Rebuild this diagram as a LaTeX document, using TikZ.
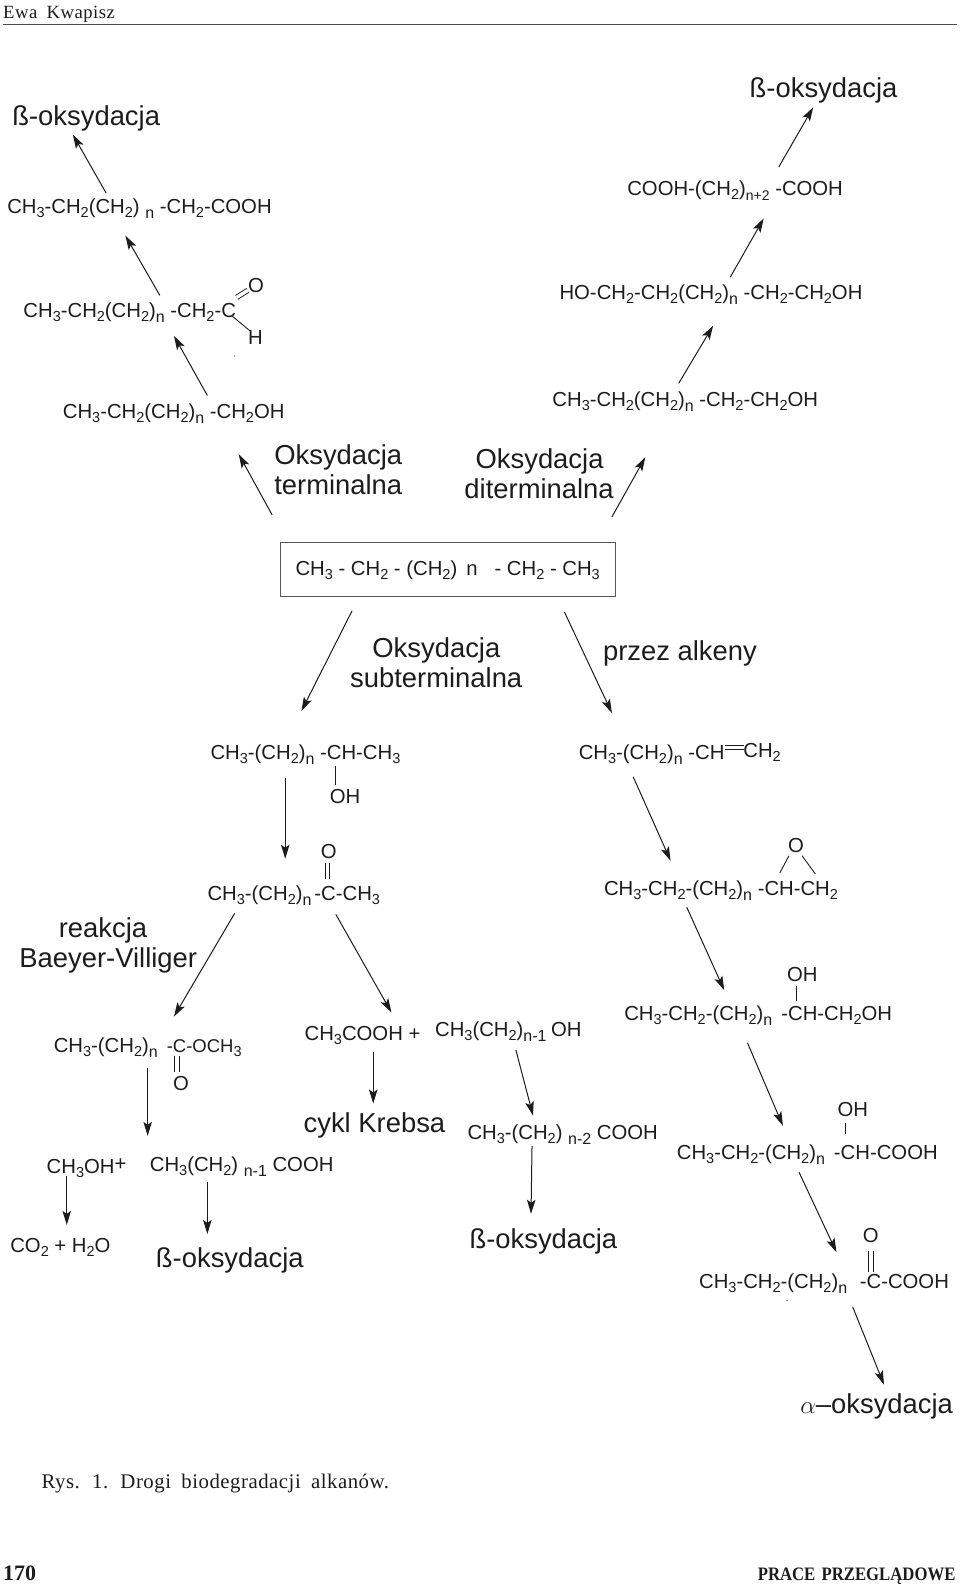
\documentclass[tikz,border=0pt]{standalone}
\usepackage{fontspec}
\setmainfont{Liberation Sans}
\newfontfamily\sklad[LetterSpace=2.5,WordSpace=1.8]{Liberation Serif}
\newfontfamily\skladb[WordSpace=1.5]{Liberation Serif}
\usetikzlibrary{arrows.meta}
\definecolor{tusz}{HTML}{1C1C1C}
\newcommand{\dol}[1]{\raisebox{-4pt}{\fontsize{14.5}{14.5}\selectfont #1}}
\newcommand{\enn}[1]{\raisebox{-5pt}{\fontsize{16}{16}\selectfont #1}}
\begin{document}
\begin{tikzpicture}[x=1.0116pt, y=-1.0116pt, text=tusz]
\tikzset{wzor/.style={anchor=base west, inner sep=0pt, font=\fontsize{20.3}{20.3}\selectfont},
  duzy/.style={anchor=base west, inner sep=0pt, font=\fontsize{27.4}{27.4}\selectfont},
  sklad/.style={anchor=base west, inner sep=0pt, font=\sklad\fontsize{20.8}{20.8}\selectfont},
  strzalka/.style={draw=tusz, line width=1pt, -{Stealth[length=14pt,width=8.5pt,inset=3pt]}},
  wiazanie/.style={draw=tusz, line width=0.9pt},
  podwojne/.style={wiazanie, double, double distance=3.5pt}}
\useasboundingbox (0,0) rectangle (949,1569);

% naglowek i stopka
\node[sklad, font=\sklad\fontsize{18.7}{18.7}\selectfont] (autor) at (3,18) {Ewa Kwapisz};
\draw[draw=black!70, line width=1.4pt] (3,24) coordinate (g1) -- (946,24) coordinate (g2);
\node[sklad] (podpis) at (41,1472) {Rys. 1. Drogi biodegradacji alkanów.};
\node[sklad, font=\skladb\bfseries\fontsize{22}{22}\selectfont] (strona) at (3,1563) {170};
\node[sklad, font=\skladb\bfseries\fontsize{19}{19}\selectfont] (dzial) at (749,1563) {\scalebox{0.88}[1]{PRACE PRZEGLĄDOWE}};

% oksydacja terminalna
\node[duzy] (betaA) at (12,124) {ß-oksydacja};
\node[wzor] (kwasA) at (7,211) {CH\dol{3}-CH\dol{2}(CH\dol{2}) \enn{n} -CH\dol{2}-COOH};
\node[wzor] (aldehyd) at (23,314) {CH\dol{3}-CH\dol{2}(CH\dol{2})\enn{n} -CH\dol{2}-C};
\node[wzor] (aldO) at (245,289) {O};
\node[wzor] (aldH) at (245,341) {H};
\node[wzor] (alkoholA) at (62,414) {CH\dol{3}-CH\dol{2}(CH\dol{2})\enn{n} -CH\dol{2}OH};
\node[duzy] (termA) at (271,459) {Oksydacja};
\node[duzy] (termB) at (271,489) {terminalna};
\coordinate (d1) at (234,294); \coordinate (d2) at (245,287);
\draw[podwojne] (d1) -- (d2);
\coordinate (d3) at (229,312); \coordinate (d4) at (247,327);
\draw[wiazanie] (d3) -- (d4);
\fill[tusz] (232,352) circle (0.6);

% oksydacja diterminalna
\node[duzy] (betaB) at (741,96) {ß-oksydacja};
\node[wzor] (kwasB) at (620,193) {COOH-(CH\dol{2})\raisebox{-5pt}{\fontsize{14}{14}\selectfont n+2} -COOH};
\node[wzor] (diol) at (553,296) {HO-CH\dol{2}-CH\dol{2}(CH\dol{2})\enn{n} -CH\dol{2}-CH\dol{2}OH};
\node[wzor] (alkoholB) at (546,402) {CH\dol{3}-CH\dol{2}(CH\dol{2})\enn{n} -CH\dol{2}-CH\dol{2}OH};
\node[duzy] (dtermA) at (470,463) {Oksydacja};
\node[duzy] (dtermB) at (459,493) {diterminalna};

% alkan
\node[wzor] (alkan) at (292,569) {CH\dol{3} - CH\dol{2} - (CH\dol{2})\, n\hspace{17pt}- CH\dol{2} - CH\dol{3}};
\draw[draw=black!65, line width=1pt] (277,536) coordinate (r1) rectangle (609,590) coordinate (r2);

% oksydacja subterminalna
\node[duzy] (subA) at (368,650) {Oksydacja};
\node[duzy] (subB) at (346,680) {subterminalna};
\node[wzor] (alkoholC) at (208,751) {CH\dol{3}-(CH\dol{2})\enn{n} -CH-CH\dol{3}};
\node[wzor] (alkoholO) at (326,794) {OH};
\coordinate (b1) at (332,757); \coordinate (b2) at (332,776);
\draw[wiazanie] (b1) -- (b2);
\node[wzor] (keton) at (205,890) {CH\dol{3}-(CH\dol{2})\enn{n}\hspace{3pt}-C-CH\dol{3}};
\node[wzor] (ketonO) at (317,849) {O};
\coordinate (b3) at (324,853); \coordinate (b4) at (324,869);
\draw[podwojne] (b3) -- (b4);
\node[duzy] (bvA) at (58,927) {reakcja};
\node[duzy] (bvB) at (19,957) {Baeyer-Villiger};
\node[wzor] (ester) at (53,1041) {CH\dol{3}-(CH\dol{2})\enn{n} \,{\fontsize{18.5}{18.5}\selectfont -C-OCH\dol{3}}};
\node[wzor] (esterO) at (171,1078) {O};
\coordinate (b5) at (175,1044); \coordinate (b6) at (175,1060);
\draw[podwojne] (b5) -- (b6);
\node[wzor] (octan) at (301,1029) {CH\dol{3}COOH +};
\node[wzor] (alkoholD) at (430,1025) {CH\dol{3}(CH\dol{2})\raisebox{-5pt}{\fontsize{16}{16}\selectfont n-1}\hspace{-1pt} OH};
\node[duzy] (krebs) at (300,1120) {cykl Krebsa};
\node[wzor] (kwasC) at (462,1127) {CH\dol{3}-(CH\dol{2}) \raisebox{-5pt}{\fontsize{16}{16}\selectfont n-2} COOH};
\node[wzor] (metanol) at (46,1160) {CH\dol{3}OH\raisebox{3pt}{+}};
\node[wzor] (kwasD) at (148,1158) {CH\dol{3}(CH\dol{2}) \raisebox{-5pt}{\fontsize{16}{16}\selectfont n-1} COOH};
\node[wzor] (dwutlenek) at (10,1238) {CO\dol{2} + H\dol{2}O};
\node[duzy] (betaC) at (154,1253) {ß-oksydacja};
\node[duzy] (betaD) at (464,1234) {ß-oksydacja};

% przez alkeny
\node[duzy] (alkenyA) at (596,653) {przez alkeny};
\node[wzor] (alken) at (572,751) {CH\dol{3}-(CH\dol{2})\enn{n} -CH\hspace{19pt}\raisebox{2pt}{CH\dol{2}}};
\coordinate (b7) at (717,739); \coordinate (b8) at (736,739);
\draw[podwojne] (b7) -- (b8);
\node[wzor] (epoksyd) at (597,885) {CH\dol{3}-CH\dol{2}-(CH\dol{2})\enn{n} -CH-CH\dol{2}};
\node[wzor] (epoksydO) at (779,843) {O};
\coordinate (b9) at (771,863); \coordinate (b10) at (780,846);
\coordinate (b11) at (793,846); \coordinate (b12) at (806,864);
\draw[wiazanie] (b9) -- (b10);
\draw[wiazanie] (b11) -- (b12);
\node[wzor] (dihydroksy) at (617,1009) {CH\dol{3}-CH\dol{2}-(CH\dol{2})\enn{n} \,-CH-CH\dol{2}OH};
\node[wzor] (dihydroksyO) at (778,970) {OH};
\coordinate (b13) at (787,975); \coordinate (b14) at (787,990);
\draw[wiazanie] (b13) -- (b14);
\node[wzor] (hydroksykwas) at (669,1146) {CH\dol{3}-CH\dol{2}-(CH\dol{2})\enn{n} \,-CH-COOH};
\node[wzor] (hydroksyO) at (828,1104) {OH};
\coordinate (b15) at (836,1110); \coordinate (b16) at (836,1121);
\draw[wiazanie] (b15) -- (b16);
\node[wzor] (ketokwas) at (691,1274) {CH\dol{3}-CH\dol{2}-(CH\dol{2})\enn{n} \hspace{7pt}-C-COOH};
\node[wzor] (ketokwasO) at (853,1228) {O};
\coordinate (b17) at (861,1237); \coordinate (b18) at (861,1258);
\draw[podwojne] (b17) -- (b18);
\fill[tusz] (778,1286) circle (0.6);
\node[duzy] (alfa) at (791,1397) {$\alpha$--oksydacja};

% strzalki
\coordinate (s1) at (269,509); \coordinate (k1) at (236,449);
\coordinate (s2) at (205,391); \coordinate (k2) at (172,332);
\coordinate (s3) at (158,292); \coordinate (k3) at (124,233);
\coordinate (s4) at (105,191); \coordinate (k4) at (72,133);
\coordinate (s5) at (605,511); \coordinate (k5) at (638,452);
\coordinate (s6) at (671,379); \coordinate (k6) at (705,322);
\coordinate (s7) at (722,274); \coordinate (k7) at (755,216);
\coordinate (s8) at (770,165); \coordinate (k8) at (804,106);
\coordinate (s9) at (348,604); \coordinate (k9) at (298,703);
\coordinate (s10) at (558,605); \coordinate (k10) at (605,705);
\coordinate (s11) at (282,769); \coordinate (k11) at (282,849);
\coordinate (s12) at (626,768); \coordinate (k12) at (663,851);
\coordinate (s13) at (679,897); \coordinate (k13) at (716,979);
\coordinate (s14) at (739,1031); \coordinate (k14) at (774,1113);
\coordinate (s15) at (790,1159); \coordinate (k15) at (827,1238);
\coordinate (s16) at (843,1292); \coordinate (k16) at (874,1369);
\coordinate (s17) at (232,903); \coordinate (k17) at (172,1005);
\coordinate (s18) at (332,904); \coordinate (k18) at (387,1001);
\coordinate (s19) at (146,1056); \coordinate (k19) at (146,1123);
\coordinate (s20) at (369,1040); \coordinate (k20) at (369,1091);
\coordinate (s21) at (510,1038); \coordinate (k21) at (527,1103);
\coordinate (s22) at (205,1169); \coordinate (k22) at (205,1220);
\coordinate (s23) at (66,1163); \coordinate (k23) at (66,1211);
\coordinate (s24) at (526,1133); \coordinate (k24) at (525,1200);
\foreach \i in {1,...,24} {\draw[strzalka] (s\i) -- (k\i);}
\end{tikzpicture}
\end{document}
